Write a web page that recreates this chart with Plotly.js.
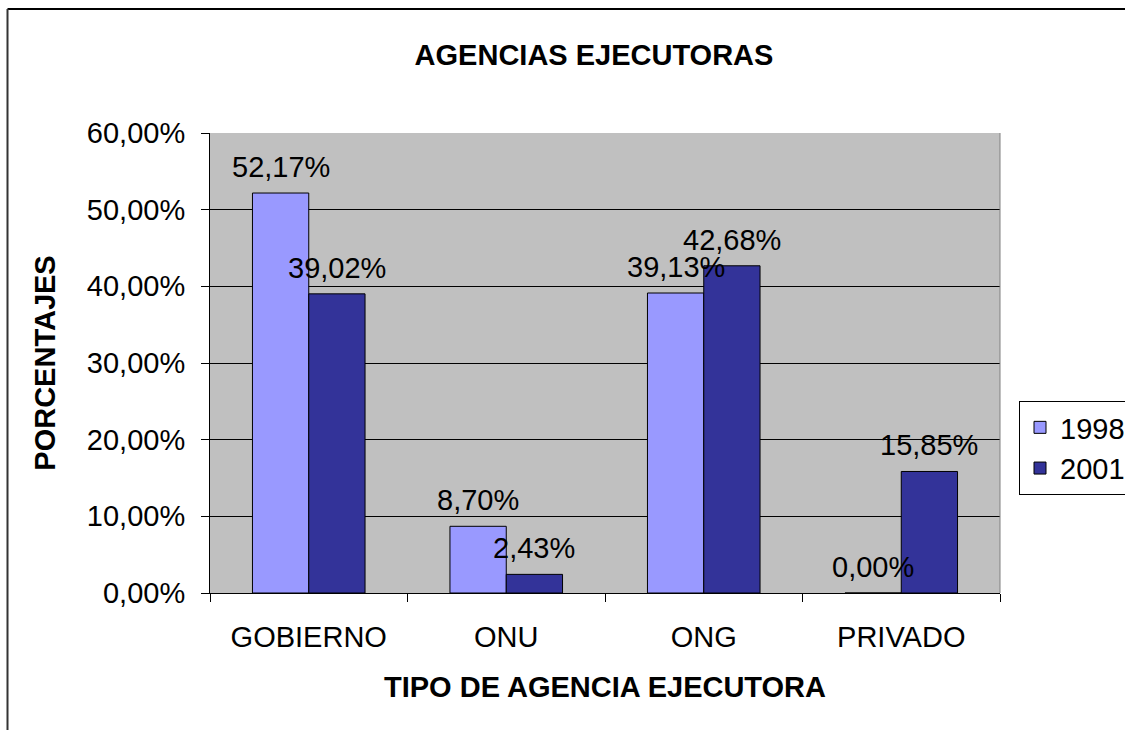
<!DOCTYPE html>
<html><head><meta charset="utf-8">
<script src="https://cdn.plot.ly/plotly-3.0.1.min.js"></script>
<style>html,body{margin:0;padding:0;background:#fff}#chart{width:1125px;height:730px}</style>
</head><body><div id="chart"></div>
<script>
const categories = ["GOBIERNO", "ONU", "ONG", "PRIVADO"];
const series1998 = [0.5217, 0.0870, 0.3913, 0.0000];
const series2001 = [0.3902, 0.0243, 0.4268, 0.1585];
const seriesNames = ["1998", "2001"];
const yTickVals = [0, 0.1, 0.2, 0.3, 0.4, 0.5, 0.6];

const FONT = "Liberation Sans, Arial, sans-serif";
const FS = 29;
const W = 1125, H = 730;
const L = 210, R = 125, T = 133, B = 137;
const pw = W - L - R, ph = H - T - B;
const px = x => (x - L) / pw;
const py = y => (H - B - y) / ph;
const BARGAP = 0.43;
const barPx = pw / categories.length * (1 - BARGAP) / 2;

const mk = (name, vals, color) => ({
  type: "bar", name: name, x: categories, y: vals,
  marker: {color: color, line: {color: "#000", width: 1}},
  hoverinfo: "skip"
});

const data = [mk(seriesNames[0], series1998, "#9999FF"), mk(seriesNames[1], series2001, "#333399")];

const fmt = v => (v * 100).toFixed(2).replace(".", ",") + "%";
const annotations = [];
[series1998, series2001].forEach((vals, si) => {
  vals.forEach((v, i) => {
    annotations.push({
      x: categories[i], y: v, xref: "x", yref: "y",
      text: fmt(v), showarrow: false,
      xanchor: "center", yanchor: "bottom",
      xshift: (si === 0 ? -1 : 1) * barPx / 2, yshift: 8,
      font: {family: FONT, size: FS, color: "#000"}
    });
  });
});

const layout = {
  width: W, height: H,
  margin: {l: L, r: R, t: T, b: B, pad: 0, autoexpand: false},
  paper_bgcolor: "#fff", plot_bgcolor: "#C0C0C0",
  separators: ",.",
  font: {family: FONT, size: FS, color: "#000"},
  barmode: "group", bargap: BARGAP, bargroupgap: 0,
  showlegend: true,
  title: {text: "<b>AGENCIAS EJECUTORAS</b>", font: {family: FONT, size: FS}, xref: "paper", x: px(594), xanchor: "center", yref: "container", y: 1 - 55 / H, yanchor: "middle"},
  xaxis: {
    type: "category", tickson: "boundaries", ticks: "outside", ticklen: 8, tickcolor: "#000",
    showline: true, linecolor: "#000", linewidth: 1, showgrid: false, zeroline: false,
    tickfont: {family: FONT, size: FS}, ticklabelstandoff: 18,
    title: {text: "<b>TIPO DE AGENCIA EJECUTORA</b>", font: {family: FONT, size: FS}, standoff: 24}
  },
  yaxis: {
    range: [0, 0.6], tickvals: yTickVals, tickformat: ".2%", ticks: "outside", ticklen: 8, tickcolor: "#000",
    showline: true, linecolor: "#000", linewidth: 1, showgrid: true, gridcolor: "#000", gridwidth: 1, zeroline: false,
    tickfont: {family: FONT, size: FS}, ticklabelstandoff: 10,
    title: {text: "<b>PORCENTAJES</b>", font: {family: FONT, size: FS}, standoff: 22}
  },
  legend: {
    xref: "container", yref: "container",
    x: 1019 / W, y: 1 - 401 / H, xanchor: "left", yanchor: "top",
    bgcolor: "#fff", bordercolor: "#000", borderwidth: 1,
    font: {family: FONT, size: FS}, tracegroupgap: 0, itemwidth: 30
  },
  annotations: annotations,
  shapes: [
    {type: "line", xref: "paper", yref: "paper", x0: px(7.5), x1: px(1130), y0: py(9), y1: py(9), line: {color: "#000", width: 2}},
    {type: "line", xref: "paper", yref: "paper", x0: px(7.5), x1: px(7.5), y0: py(9), y1: py(740), line: {color: "#333", width: 2}},
    {type: "line", xref: "paper", yref: "paper", x0: 1, x1: 1, y0: 0, y1: 1, line: {color: "#808080", width: 1}}
  ]
};

Plotly.newPlot("chart", data, layout, {staticPlot: true, displayModeBar: false});
</script></body></html>
